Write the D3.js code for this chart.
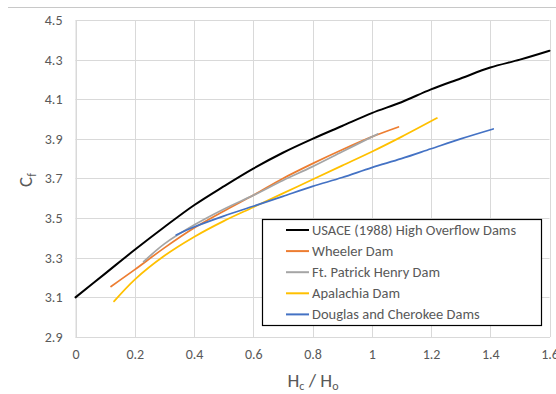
<!DOCTYPE html>
<html><head><meta charset="utf-8">
<script src="https://cdnjs.cloudflare.com/ajax/libs/d3/7.8.5/d3.min.js"></script>
<style>body{margin:0;background:#fff}svg{display:block;font-family:Calibri,Carlito,"Liberation Sans","Open Sans",sans-serif}</style>
</head><body><svg id="c" width="556" height="394"></svg>
<script>
const xTicks = [0,0.2,0.4,0.6,0.8,1,1.2,1.4,1.6];
const yTicks = [2.9,3.1,3.3,3.5,3.7,3.9,4.1,4.3,4.5];
const seriesNames = ["USACE (1988) High Overflow Dams","Wheeler Dam","Ft. Patrick Henry Dam","Apalachia Dam","Douglas and Cherokee Dams"];
const seriesColors = ["#000000","#ED7D31","#A5A5A5","#FFC000","#4472C4"];
const usaceX = [0,0.1,0.2,0.3,0.4,0.5,0.6,0.7,0.8,0.9,1.0,1.1,1.2,1.3,1.4,1.5,1.6];
const usaceY = [3.10,3.22,3.34,3.455,3.565,3.66,3.75,3.83,3.90,3.965,4.03,4.085,4.15,4.205,4.26,4.30,4.345];
const wheelerX = [0.12,0.2,0.3,0.4,0.5,0.6,0.7,0.8,0.9,1.0,1.09];
const wheelerY = [3.155,3.24,3.35,3.45,3.535,3.615,3.70,3.775,3.845,3.91,3.96];
const patrickX = [0.23,0.3,0.4,0.5,0.6,0.7,0.8,0.9,1.0,1.02];
const patrickY = [3.28,3.37,3.465,3.545,3.615,3.69,3.76,3.835,3.91,3.925];
const apalachiaX = [0.13,0.2,0.3,0.4,0.5,0.6,0.7,0.8,0.9,1.0,1.1,1.22];
const apalachiaY = [3.08,3.19,3.31,3.405,3.485,3.555,3.625,3.695,3.765,3.835,3.91,4.005];
const douglasX = [0.34,0.4,0.5,0.6,0.7,0.8,0.9,1.0,1.1,1.2,1.3,1.41];
const douglasY = [3.415,3.455,3.51,3.56,3.61,3.66,3.705,3.755,3.80,3.85,3.90,3.95];

const series = [[usaceX,usaceY],[wheelerX,wheelerY],[patrickX,patrickY],[apalachiaX,apalachiaY],[douglasX,douglasY]]
  .map((s,i)=>({name:seriesNames[i],color:seriesColors[i],pts:s[0].map((x,j)=>[x,s[1][j]])}));

const svg = d3.select("#c");
const L=75.5,R=549.5,T=20,B=337;
const x = d3.scaleLinear().domain([0,1.6]).range([L,R]);
const y = d3.scaleLinear().domain([2.9,4.5]).range([B,T]);

// chart border top line
svg.append("line").attr("x1",8).attr("x2",556).attr("y1",7.5).attr("y2",7.5).attr("stroke","#c8c8c8").attr("stroke-width",1);

// gridlines
const g = svg.append("g");
g.selectAll(".gx").data(xTicks).join("line").attr("x1",d=>Math.round(x(d))+0.5).attr("x2",d=>Math.round(x(d))+0.5)
 .attr("y1",T).attr("y2",B).attr("stroke","#d9d9d9").attr("stroke-width",1);
g.selectAll(".gy").data(yTicks).join("line").attr("y1",d=>Math.round(y(d))+0.5).attr("y2",d=>Math.round(y(d))+0.5)
 .attr("x1",L).attr("x2",R).attr("stroke","#d9d9d9").attr("stroke-width",1);

// axes
const xa = svg.append("g").attr("transform",`translate(0,${B})`).call(d3.axisBottom(x).tickValues(xTicks).tickSize(0).tickPadding(12).tickFormat(d=>d3.format("")(d)));
const ya = svg.append("g").attr("transform",`translate(${L},0)`).call(d3.axisLeft(y).tickValues(yTicks).tickSize(0).tickPadding(13).tickFormat(d3.format(".1f")));
[xa,ya].forEach(a=>{a.select(".domain").attr("stroke","#d9d9d9");a.selectAll("text").attr("fill","#595959").attr("font-size","14px").attr("font-family","Calibri,Carlito,'Liberation Sans',sans-serif");});

// lines
const line = d3.line().x(d=>x(d[0])).y(d=>y(d[1])).curve(d3.curveCatmullRom.alpha(0.5));
svg.append("g").selectAll("path").data(series).join("path").attr("d",d=>line(d.pts))
 .attr("fill","none").attr("stroke",d=>d.color).attr("stroke-width",d=>d.name.startsWith("USACE")?2:1.75).attr("stroke-linecap","round");

// axis titles
const xt = svg.append("text").attr("x",313).attr("y",387).attr("text-anchor","middle").attr("fill","#595959").attr("font-size","19px");
xt.append("tspan").text("H");
xt.append("tspan").attr("font-size","12px").attr("dy",3).text("c");
xt.append("tspan").attr("dy",-3).text(" / H");
xt.append("tspan").attr("font-size","12px").attr("dy",3).text("o");

const yt = svg.append("text").attr("transform","translate(32,180) rotate(-90)").attr("text-anchor","middle").attr("fill","#595959").attr("font-size","19px");
yt.append("tspan").text("C");
yt.append("tspan").attr("font-size","12px").attr("dy",4).text("f");

// legend
const lg = svg.append("g");
lg.append("rect").attr("x",262.5).attr("y",219.5).attr("width",279).attr("height",106).attr("fill","#fff").attr("stroke","#000").attr("stroke-width",1.2);
const items = lg.selectAll("g.it").data(series).join("g").attr("transform",(d,i)=>`translate(0,${230+i*21.1})`);
items.append("line").attr("x1",286).attr("x2",309).attr("y1",0).attr("y2",0).attr("stroke",d=>d.color).attr("stroke-width",2);
items.append("text").attr("x",312).attr("y",5).attr("fill","#595959").attr("font-size","14.5px").text(d=>d.name);
</script></body></html>
